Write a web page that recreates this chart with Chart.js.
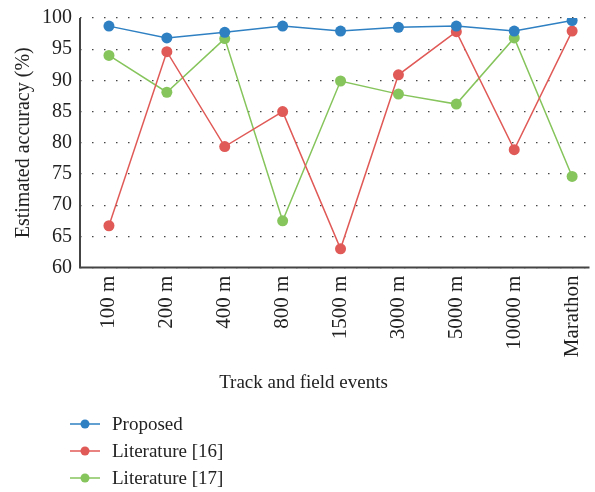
<!DOCTYPE html>
<html>
<head>
<meta charset="utf-8">
<script src="https://cdn.jsdelivr.net/npm/chart.js@4.4.1/dist/chart.umd.min.js"></script>
<style>
  html, body { margin: 0; padding: 0; background: #fff; }
  #wrap { width: 595px; height: 492px; }
</style>
</head>
<body>
<div id="wrap"><canvas id="chart" width="595" height="492"></canvas></div>
<script>
"use strict";

var events = ['100 m', '200 m', '400 m', '800 m', '1500 m', '3000 m', '5000 m', '10000 m', 'Marathon'];
var proposed = [98.7, 96.8, 97.7, 98.7, 97.9, 98.5, 98.7, 97.9, 99.6];
var lit16 = [66.7, 94.6, 79.4, 85.0, 63.0, 90.9, 97.8, 78.9, 97.9];
var lit17 = [94.0, 88.1, 96.7, 67.5, 89.9, 87.8, 86.2, 96.8, 74.6];
var yTicks = [60, 65, 70, 75, 80, 85, 90, 95, 100];

var FONT = "'Liberation Serif', 'Times New Roman', serif";
var TXT = '#222';
var AXIS = '#444';

function toPoints(values) {
	return values.map(function (v, i) { return { x: i, y: v }; });
}

function makeSet(label, values, color) {
	return {
		label: label,
		data: toPoints(values),
		borderColor: color,
		backgroundColor: color,
		borderWidth: 1.5,
		pointRadius: 5.5,
		pointHoverRadius: 5.5,
		pointBorderWidth: 0,
		tension: 0
	};
}

// solid left and bottom axis lines (grid itself is dotted)
var axisLines = {
	id: 'axisLines',
	beforeDatasetsDraw: function (chart) {
		var ctx = chart.ctx, a = chart.chartArea;
		ctx.save();
		ctx.strokeStyle = AXIS;
		ctx.lineWidth = 2;
		ctx.beginPath();
		ctx.moveTo(a.left, a.top);
		ctx.lineTo(a.left, a.bottom);
		ctx.lineTo(a.right, a.bottom);
		ctx.stroke();
		ctx.restore();
	}
};

// legend drawn as a vertical list under the chart
var stackedLegend = {
	id: 'stackedLegend',
	afterDraw: function (chart) {
		var ctx = chart.ctx;
		ctx.save();
		ctx.font = '19px ' + FONT;
		ctx.textBaseline = 'middle';
		chart.data.datasets.forEach(function (ds, i) {
			var y = 424 + i * 27;
			ctx.strokeStyle = ds.borderColor;
			ctx.lineWidth = 1.5;
			ctx.beginPath();
			ctx.moveTo(70, y);
			ctx.lineTo(100, y);
			ctx.stroke();
			ctx.fillStyle = ds.borderColor;
			ctx.beginPath();
			ctx.arc(85, y, 4.5, 0, Math.PI * 2);
			ctx.fill();
			ctx.fillStyle = TXT;
			ctx.fillText(ds.label, 112, y + 1);
		});
		ctx.restore();
	}
};

const context = document.getElementById('chart');
const myChart = new Chart(context, {
	type: 'line',
	data: {
		datasets: [
			makeSet('Proposed', proposed, '#2e80c3'),
			makeSet('Literature [16]', lit16, '#e05a57'),
			makeSet('Literature [17]', lit17, '#86c45c')
		]
	},
	options: {
		responsive: false,
		animation: false,
		layout: { padding: { top: 18, right: 0, bottom: 98, left: 12 } },
		plugins: {
			legend: { display: false },
			tooltip: { enabled: false },
			title: {
				display: true,
				position: 'bottom',
				text: 'Track and field events',
				color: TXT,
				font: { family: FONT, size: 19, weight: 'normal' },
				padding: { top: 6, bottom: 0 }
			}
		},
		scales: {
			x: {
				type: 'linear',
				min: -0.5,
				max: 8.3,
				afterBuildTicks: function (scale) {
					scale.ticks = events.map(function (e, i) { return { value: i }; });
				},
				afterFit: function (scale) {
					scale.paddingRight = 0;
					scale.paddingLeft = 0;
				},
				ticks: {
					autoSkip: false,
					minRotation: 90,
					maxRotation: 90,
					padding: 8,
					color: TXT,
					font: { family: FONT, size: 21 },
					callback: function (value) { return events[value]; }
				},
				grid: { display: false, drawTicks: false },
				border: { display: false }
			},
			y: {
				min: 60,
				max: 100,
				afterBuildTicks: function (scale) {
					scale.ticks = yTicks.map(function (v) { return { value: v }; });
				},
				afterFit: function (scale) {
					scale.paddingTop = 0;
					scale.paddingBottom = 0;
				},
				ticks: {
					padding: 8,
					color: TXT,
					font: { family: FONT, size: 20 }
				},
				title: {
					display: true,
					text: 'Estimated accuracy (%)',
					color: TXT,
					font: { family: FONT, size: 20 },
					padding: { top: 0, bottom: -2 }
				},
				grid: { color: AXIS, lineWidth: 1.2, drawTicks: false },
				border: { display: false, dash: [1.5, 10.5] }
			}
		}
	},
	plugins: [axisLines, stackedLegend]
});
</script>
</body>
</html>
